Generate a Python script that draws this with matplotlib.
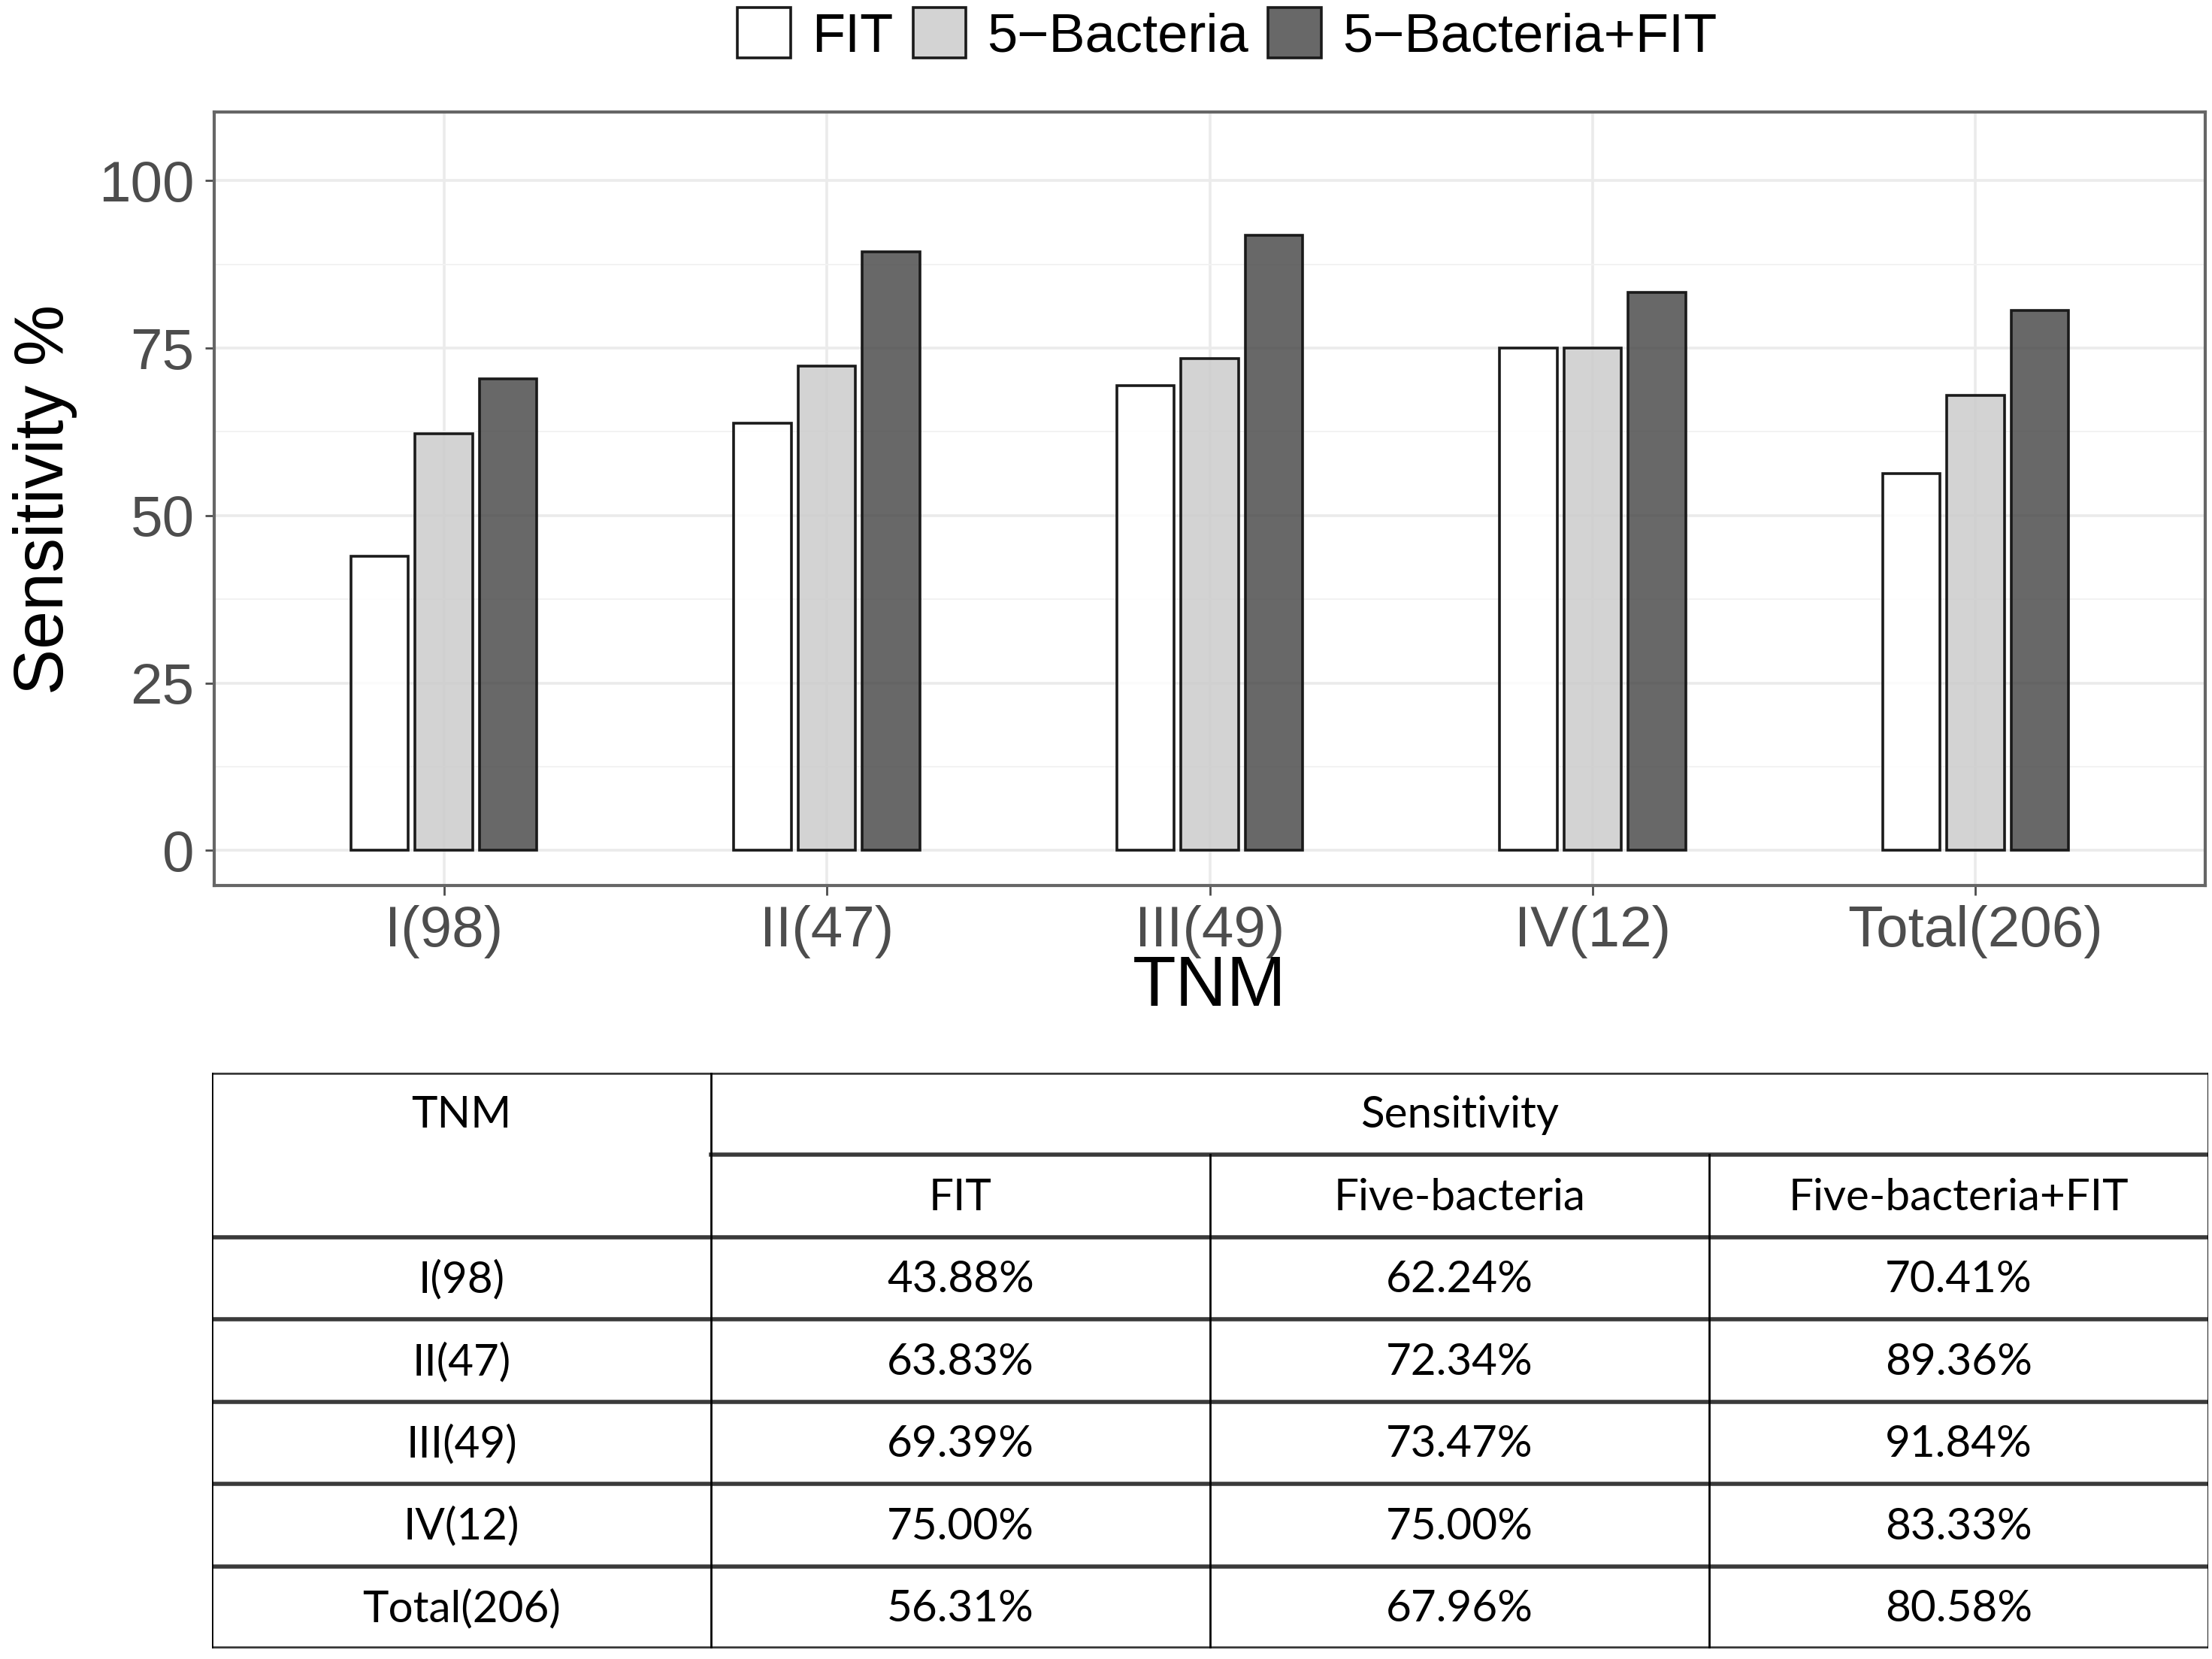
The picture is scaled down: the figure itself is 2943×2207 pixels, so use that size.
import numpy as np
import matplotlib
matplotlib.use("Agg")
import matplotlib.pyplot as plt

stages = ["I(98)", "II(47)", "III(49)", "IV(12)", "Total(206)"]
methods = ["FIT", "5\u2212Bacteria", "5\u2212Bacteria+FIT"]
fit = [43.88, 63.83, 69.39, 75.00, 56.31]
bact = [62.24, 72.34, 73.47, 75.00, 67.96]
combo = [70.41, 89.36, 91.84, 83.33, 80.58]

tbl_methods = ["FIT", "Five-bacteria", "Five-bacteria+FIT"]
tbl_rows = ["I(98)", "II(47)", "III(49)", "IV(12)", "Total(206)"]

fills = ["#FFFFFF", "#CCCCCC", "#4D4D4D"]

W, H, DPI = 2943, 2207, 200
fig = plt.figure(figsize=(W / DPI, H / DPI), dpi=DPI)

# ---- bar chart panel ----
ax = fig.add_axes([285 / W, 1 - 1178 / H, 2649 / W, 1029 / H])
x = np.arange(1, len(stages) + 1)
width = 0.15
step = 0.168
for i, (vals, lab) in enumerate(zip([fit, bact, combo], methods)):
    ax.bar(x + (i - 1) * step, vals, width, label=lab,
           facecolor=matplotlib.colors.to_rgba(fills[i], 0.85),
           edgecolor="#1a1a1a", linewidth=1.3, zorder=3)

ax.set_xlim(0.4, 5.6)
ax.set_ylim(-5.25, 110.25)
ax.set_xticks(x)
ax.set_xticklabels(stages)
ax.set_yticks([0, 25, 50, 75, 100])
ax.set_yticks([12.5, 37.5, 62.5, 87.5], minor=True)
ax.grid(True, which="major", color="#EBEBEB", linewidth=1.3, zorder=0)
ax.grid(True, which="minor", axis="y", color="#F2F2F2", linewidth=0.7, zorder=0)
ax.set_axisbelow(True)
ax.tick_params(axis="both", which="major", labelsize=27.5, colors="#4D4D4D",
               length=4.5, width=1.0, pad=5)
ax.tick_params(axis="y", which="minor", length=0)
for s in ax.spines.values():
    s.set_color("#666666")
    s.set_linewidth(1.5)

fig.text(60 / W, 1 - 664 / H, "Sensitivity %", rotation=90, ha="center",
         va="center", fontsize=33, family="Liberation Sans")
fig.text(1609 / W, 1 - 1314 / H, "TNM", ha="center", va="center",
         fontsize=34, family="Liberation Sans")

h, l = ax.get_legend_handles_labels()
fig.legend(h, l, loc="center", bbox_to_anchor=(1633 / W, 1 - 47 / H), ncol=3,
           frameon=False, handlelength=0.98, handleheight=1.05,
           handletextpad=0.39, columnspacing=0.36,
           prop={"family": "Liberation Sans", "size": 26})

for t in ax.get_xticklabels() + ax.get_yticklabels():
    t.set_family("Liberation Sans")

# ---- table ----
tx = fig.add_axes([282 / W, 1 - 2193 / H, 2656 / W, 766 / H])
ncol, nrow = 4, 7
tx.set_xlim(0, ncol)
tx.set_ylim(nrow, 0)
tx.axis("off")

hcol = "#3a3a3a"
tx.plot([0, 4], [0, 0], color=hcol, lw=2.0)
tx.plot([1, 4], [1, 1], color=hcol, lw=2.0)
for r in range(2, nrow + 1):
    tx.plot([0, 4], [r, r], color=hcol, lw=2.0)
for c in [0, 1, 4]:
    tx.plot([c, c], [0, nrow], color="black", lw=1.0)
for c in [2, 3]:
    tx.plot([c, c], [1, nrow], color="black", lw=1.0)

tfont = dict(family="Lato", fontsize=21, color="black", ha="center", va="center")
tx.text(0.5, 0.52, "TNM", **tfont)
tx.text(2.5, 0.52, "Sensitivity", **tfont)
for j, m in enumerate(tbl_methods):
    tx.text(1.5 + j, 1.52, m, **tfont)
for i, (name, a, b, c) in enumerate(zip(tbl_rows, fit, bact, combo)):
    yy = 2.52 + i
    tx.text(0.5, yy, name, **tfont)
    for j, v in enumerate([a, b, c]):
        tx.text(1.5 + j, yy, f"{v:.2f}%", **tfont)

fig.savefig("out.png", dpi=DPI)
